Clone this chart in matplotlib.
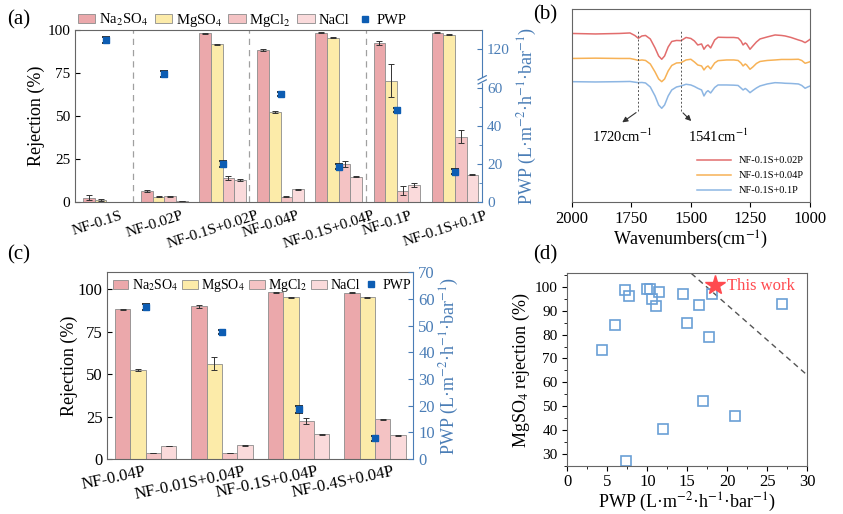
import numpy as np
import matplotlib.pyplot as plt
from matplotlib.patches import Patch, Rectangle
from matplotlib.lines import Line2D

plt.rcParams['font.family'] = 'serif'
plt.rcParams['font.serif'] = ['Liberation Serif', 'DejaVu Serif']
plt.rcParams['mathtext.fontset'] = 'stix'

# ---- (a) rejection / PWP of the modified membranes
membranes_a = ['NF-0.1S', 'NF-0.02P', 'NF-0.1S+0.02P', 'NF-0.04P',
               'NF-0.1S+0.04P', 'NF-0.1P', 'NF-0.1S+0.1P']
na2so4_a = [2.5, 6.4, 98.1, 88.4, 98.4, 92.2, 98.4]
na2so4_a_err = [1.5, 0.5, 0.3, 0.5, 0.3, 1.2, 0.3]
mgso4_a = [1.0, 3.1, 91.7, 52.5, 95.5, 70.5, 97.1]
mgso4_a_err = [0.6, 0.3, 0.3, 0.6, 0.3, 9.5, 0.4]
mgcl2_a = [0.0, 3.3, 14.1, 3.1, 22.1, 6.6, 38.0]
mgcl2_a_err = [0.0, 0.3, 1.2, 0.2, 2.0, 2.5, 3.8]
nacl_a = [0.0, 0.5, 12.6, 7.4, 14.7, 9.9, 15.7]
nacl_a_err = [0.0, 0.2, 0.5, 0.2, 0.3, 1.0, 0.3]
pwp_a = [124.8, 106.9, 20.0, 56.8, 18.6, 48.4, 16.0]
pwp_a_err = [1.5, 1.5, 1.5, 1.2, 1.2, 1.2, 1.2]

# ---- (b) FTIR spectra
wavenumber = [2000, 1900, 1800, 1755, 1735, 1720, 1705, 1690, 1670, 1650, 1635, 1622,
              1610, 1595, 1580, 1560, 1541, 1520, 1500, 1485, 1471, 1455, 1445, 1435,
              1428, 1417, 1400, 1386, 1350, 1320, 1302, 1290, 1281, 1272, 1266, 1252,
              1240, 1225, 1210, 1180, 1147, 1120, 1105, 1080, 1049, 1035, 1021, 1010, 1000]
ftir_002p = [168.5, 168, 168.5, 169, 166.5, 163.7, 166, 166.5, 163, 154, 146, 142.7,
             146, 155, 160.5, 161.5, 161.3, 164.5, 163.5, 161, 157, 158, 152.7, 156,
             157, 154, 162, 164.7, 164.5, 164.5, 164, 161, 157, 159, 158, 152.7,
             156, 160, 163, 165, 167, 166.5, 166, 164.5, 162, 161, 159.3, 161, 162.7]
ftir_004p = [143.5, 143.8, 143.5, 143.5, 142.5, 141.5, 142, 141.5, 138, 130, 123, 120.3,
             123, 131, 136.5, 139, 139.3, 142, 142.7, 140, 137, 136, 132, 135,
             136, 133, 139, 141.3, 142, 142, 141.5, 139, 136, 138, 137, 132.7,
             135, 138.5, 140.5, 141.5, 142, 142.5, 142.5, 142.5, 142.7, 141.5, 138.7, 139.5, 140.3]
ftir_01p = [120.3, 120, 120.3, 120.5, 119.8, 119.3, 119.5, 119, 115, 106, 97, 93.7,
            97, 106, 112, 115, 116, 117.7, 117, 115.5, 113.7, 112, 106, 110,
            111.3, 109, 114.5, 117, 117, 116.8, 116.5, 114, 112, 113.5, 112.5, 109.3,
            111.5, 114, 116, 118, 119.3, 119, 118.7, 118.5, 118, 116.5, 113.7, 115, 116]
ftir_labels = ['NF-0.1S+0.02P', 'NF-0.1S+0.04P', 'NF-0.1S+0.1P']

# ---- (c) effect of S loading
membranes_c = ['NF-0.04P', 'NF-0.01S+0.04P', 'NF-0.1S+0.04P', 'NF-0.4S+0.04P']
na2so4_c = [88.2, 90.0, 98.4, 98.0]
na2so4_c_err = [0.5, 1.0, 0.3, 0.3]
mgso4_c = [52.7, 56.3, 95.5, 95.5]
mgso4_c_err = [0.6, 4.0, 0.3, 0.3]
mgcl2_c = [3.3, 3.3, 22.4, 23.5]
mgcl2_c_err = [0.0, 0.0, 2.0, 0.3]
nacl_c = [7.8, 8.2, 14.7, 14.1]
nacl_c_err = [0.0, 0.3, 0.3, 0.3]
pwp_c = [57.1, 47.6, 18.6, 7.8]
pwp_c_err = [1.2, 0.8, 1.2, 1.0]

# ---- (d) comparison with literature
pwp_lit = [4.3, 6.0, 7.2, 7.7, 7.3, 9.9, 10.3, 10.6, 11.1, 11.4, 11.9,
           14.5, 15.0, 16.5, 17.0, 17.7, 18.1, 21.0, 26.8]
mgso4_lit = [73.5, 84.0, 98.5, 96.0, 27.0, 99.0, 99.0, 95.0, 92.0, 98.0, 40.5,
             97.0, 85.0, 92.3, 52.0, 79.0, 97.2, 46.0, 93.0]
this_work_pwp = [18.5]
this_work_mgso4 = [100.7]
tradeoff_pwp = [15.5, 30.0]
tradeoff_mgso4 = [105.6, 63.0]

salts = [r'Na$_2$SO$_4$', r'MgSO$_4$', r'MgCl$_2$', 'NaCl']
bar_colors = ['#EBA8AB', '#FCEBA9', '#F4C3C4', '#FADADB']
blue = '#4A7DB6'
pwp_col = '#0D5DB3'
frame = '#666666'

fig = plt.figure(figsize=(8.43, 5.14), dpi=100)


def draw_bars(ax, x, series, errs):
    for off, vals, err, col in zip([-0.3, -0.1, 0.1, 0.3], series, errs, bar_colors):
        ax.bar(x + off, vals, 0.2, yerr=err, color=col, edgecolor='#8C8C8C', lw=0.6,
               capsize=2.5, error_kw=dict(ecolor='#333333', elinewidth=0.7, capthick=0.7))


def style_twin(ax, ax2):
    for s in ['left', 'bottom', 'top']:
        ax.spines[s].set_color(frame)
    ax.spines['right'].set_visible(False)
    for s in ['left', 'bottom', 'top']:
        ax2.spines[s].set_visible(False)
    ax2.spines['right'].set_color(blue)
    ax2.tick_params(axis='y', colors=blue, direction='in', labelcolor=blue)
    ax.tick_params(axis='y', direction='in')
    ax.tick_params(axis='x', length=0)


def legend_handles():
    hs = [Patch(facecolor=c, edgecolor='#8C8C8C', lw=0.6, label=l) for c, l in zip(bar_colors, salts)]
    hs.append(Line2D([], [], ls='none', marker='s', ms=5, color=pwp_col, label='PWP'))
    return hs


pwp_label = 'PWP (L·m$^{-2}$·h$^{-1}$·bar$^{-1}$)'

# ================= (a)
axa = fig.add_axes([0.089, 0.607, 0.483, 0.335])
xa = np.arange(len(membranes_a))
draw_bars(axa, xa, [na2so4_a, mgso4_a, mgcl2_a, nacl_a],
          [na2so4_a_err, mgso4_a_err, mgcl2_a_err, nacl_a_err])
for sep in [0.45, 2.45, 4.47]:
    axa.axvline(sep, color='#A0A0A0', ls=(0, (5, 4)), lw=0.9)
axa.set_xlim(-0.54, 6.47)
axa.set_ylim(0, 100)
axa.set_yticks([0, 25, 50, 75, 100])
axa.set_xticks(xa - 0.16)
axa.set_xticklabels(membranes_a, rotation=18, ha='center', fontsize=11)
axa.tick_params(axis='x', pad=5)
axa.tick_params(axis='y', labelsize=11)
axa.set_ylabel('Rejection (%)', fontsize=13, labelpad=2)

gap_lo, gap_hi = 64.2, 103.7


def brk_fwd(v):
    v = np.asarray(v, dtype=float)
    return np.where(v <= gap_lo, v, np.where(v >= gap_hi, v - (gap_hi - gap_lo), gap_lo))


def brk_inv(u):
    u = np.asarray(u, dtype=float)
    return np.where(u <= gap_lo, u, u + (gap_hi - gap_lo))


axa2 = axa.twinx()
axa2.set_yscale('function', functions=(brk_fwd, brk_inv))
axa2.set_ylim(0, 130)
axa2.errorbar(xa, pwp_a, yerr=pwp_a_err, fmt='s', ms=5, mfc=pwp_col, mec=pwp_col,
              ecolor='#111111', elinewidth=0.8, capsize=3, capthick=1.2, zorder=5)
axa2.set_yticks([0, 20, 40, 60, 120])
axa2.set_yticks([10, 30, 50], minor=True)
axa2.tick_params(axis='y', labelsize=11)
axa2.tick_params(axis='y', which='minor', direction='in', colors=blue)
axa2.set_ylabel(pwp_label, fontsize=13, color=blue, labelpad=4)
style_twin(axa, axa2)
yb = gap_lo / (130 - (gap_hi - gap_lo))
axa2.add_patch(Rectangle((0.99, yb - 0.012), 0.02, 0.024, transform=axa2.transAxes,
                         color='white', clip_on=False, zorder=6))
for dy in [-0.012, 0.012]:
    axa2.plot([0.99, 1.01], [yb + dy - 0.012, yb + dy + 0.012], transform=axa2.transAxes,
              color=blue, lw=0.9, clip_on=False, zorder=7)
axa.legend(handles=legend_handles(), loc='lower left', bbox_to_anchor=(0.0, 0.99), ncol=5,
           frameon=False, fontsize=10.5, handlelength=1.2, handleheight=0.6,
           handletextpad=0.25, columnspacing=0.45, borderaxespad=0.1, borderpad=0.1)

# ================= (b)
axb = fig.add_axes([0.678, 0.6076, 0.283, 0.3744])
for vals, col, lab in zip([ftir_002p, ftir_004p, ftir_01p],
                          ['#E26D6D', '#F7B256', '#8DB6E3'], ftir_labels):
    axb.plot(wavenumber, vals, color=col, lw=1.1, label=lab)
axb.set_xlim(2000, 1000)
axb.set_ylim(0.3, 192.7)
axb.set_yticks([])
axb.set_xticks([2000, 1750, 1500, 1250, 1000])
axb.tick_params(axis='x', labelsize=12, direction='out')
for s in axb.spines.values():
    s.set_color(frame)
for w in [1720, 1541]:
    axb.plot([w, w], [91, 172], ls=(0, (2, 2)), color='#555555', lw=0.7)
axb.annotate('', xy=(1797, 78), xytext=(1720, 91),
             arrowprops=dict(arrowstyle='-|>', lw=0.8, color='#333333', mutation_scale=8))
axb.annotate('', xy=(1490, 79), xytext=(1541, 91),
             arrowprops=dict(arrowstyle='-|>', lw=0.8, color='#333333', mutation_scale=8))
axb.text(1790, 66, '1720cm$^{-1}$', ha='center', va='center', fontsize=10.5)
axb.text(1386, 66, '1541cm$^{-1}$', ha='center', va='center', fontsize=10.5)
axb.set_xlabel('Wavenumbers(cm$^{-1}$)', fontsize=13, labelpad=1)
axb.legend(loc='lower right', frameon=False, fontsize=7.5, handlelength=3.2,
           labelspacing=0.55, borderaxespad=0.2)

# ================= (c)
axc = fig.add_axes([0.1273, 0.107, 0.363, 0.363])
xc = np.arange(len(membranes_c))
draw_bars(axc, xc, [na2so4_c, mgso4_c, mgcl2_c, nacl_c],
          [na2so4_c_err, mgso4_c_err, mgcl2_c_err, nacl_c_err])
axc.set_xlim(-0.5, 3.5)
axc.set_ylim(0, 110)
axc.set_yticks([0, 25, 50, 75, 100])
axc.set_xticks(xc - 0.42)
axc.set_xticklabels(membranes_c, rotation=12, ha='center', fontsize=12)
axc.tick_params(axis='y', labelsize=12)
axc.set_ylabel('Rejection (%)', fontsize=13, labelpad=0)
axc2 = axc.twinx()
axc2.set_ylim(0, 70)
axc2.set_yticks(np.arange(0, 71, 10))
axc2.errorbar(xc, pwp_c, yerr=pwp_c_err, fmt='s', ms=5, mfc=pwp_col, mec=pwp_col,
              ecolor='#111111', elinewidth=0.8, capsize=3, capthick=1.2, zorder=5)
axc2.tick_params(axis='y', labelsize=12)
axc2.set_ylabel(pwp_label, fontsize=13, color=blue, labelpad=2)
style_twin(axc, axc2)
axc.legend(handles=legend_handles(), loc='upper left', bbox_to_anchor=(0.01, 0.99), ncol=5,
           frameon=False, fontsize=10, handlelength=1.1, handleheight=0.6,
           handletextpad=0.25, columnspacing=0.3, borderaxespad=0.1, borderpad=0.1)

# ================= (d)
axd = fig.add_axes([0.673, 0.0934, 0.2847, 0.3746])
axd.plot(tradeoff_pwp, tradeoff_mgso4, ls=(0, (4, 3)), color='#555555', lw=1)
axd.plot(pwp_lit, mgso4_lit, ls='none', marker='s', ms=7, mfc='none', mec='#6A9FD6', mew=1.2)
axd.plot(this_work_pwp, this_work_mgso4, ls='none', marker='*', ms=15, color='#FF4A4F')
axd.text(19.9, 100.3, 'This work', color='#FF4A4F', fontsize=12, va='center')
axd.set_xlim(0, 30)
axd.set_ylim(25, 105.6)
axd.set_xticks(np.arange(0, 31, 5))
axd.set_xticks(np.arange(0, 31, 2.5), minor=True)
axd.set_yticks(np.arange(30, 101, 10))
axd.set_yticks(np.arange(25, 106, 5), minor=True)
axd.tick_params(which='both', direction='out', labelsize=11)
axd.tick_params(axis='x', labelsize=12, pad=2)
for s in axd.spines.values():
    s.set_color(frame)
axd.set_xlabel(pwp_label, fontsize=13, labelpad=1)
axd.set_ylabel(r'MgSO$_4$ rejection (%)', fontsize=13, labelpad=2)

for txt, x, y in [('(a)', 0.008, 0.962), ('(b)', 0.632, 0.971),
                  ('(c)', 0.008, 0.504), ('(d)', 0.632, 0.504)]:
    fig.text(x, y, txt, fontsize=15, va='center')

fig.savefig('out.png', dpi=100)
